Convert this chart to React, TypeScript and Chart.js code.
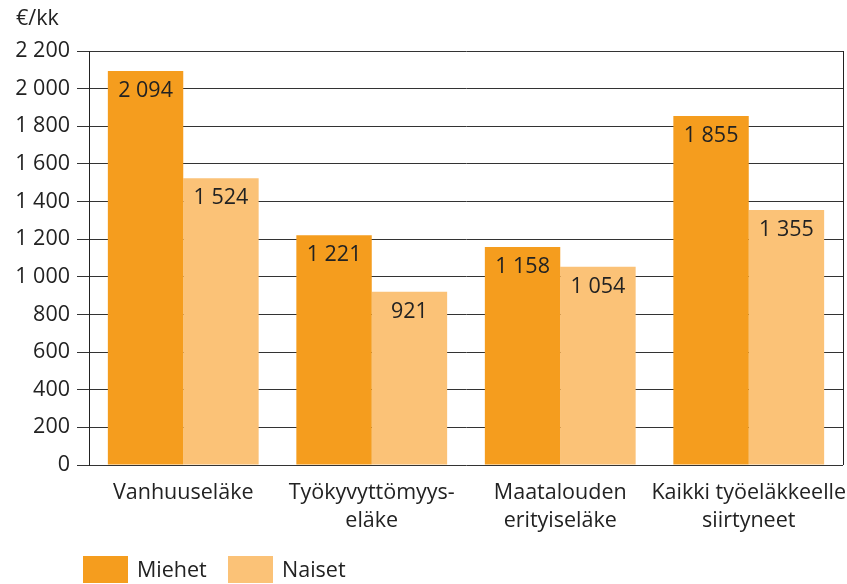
import React, { useEffect, useRef } from "react";
import { Chart, registerables } from "chart.js";

Chart.register(...registerables);

const categories: string[][] = [
  ["Vanhuuseläke"],
  ["Työkyvyttömyys-", "eläke"],
  ["Maatalouden", "erityiseläke"],
  ["Kaikki työeläkkeelle", "siirtyneet"],
];
const miehet: number[] = [2094, 1221, 1158, 1855];
const naiset: number[] = [1524, 921, 1054, 1355];
const seriesNames: string[] = ["Miehet", "Naiset"];
const seriesColors: string[] = ["#F59D1E", "#FBC277"];
const unitLabel = "€/kk";
const yMax = 2200;
const yStep = 200;

const FONT = "'Open Sans', 'Noto Sans', sans-serif";
const TEXT = "#222";
const FS = 21.5;

const fmt = (v: number) =>
  String(Math.round(v)).replace(/\B(?=(\d{3})+(?!\d))/g, " ");

const decorPlugin = {
  id: "decor",
  afterDatasetsDraw(chart: any) {
    const ctx = chart.ctx;
    const area = chart.chartArea;
    ctx.save();
    // right border
    ctx.strokeStyle = "#222";
    ctx.lineWidth = 1;
    ctx.beginPath();
    ctx.moveTo(Math.round(area.right) + 0.5, area.top);
    ctx.lineTo(Math.round(area.right) + 0.5, area.bottom);
    ctx.stroke();
    // value labels
    ctx.font = `${FS}px ${FONT}`;
    ctx.fillStyle = TEXT;
    ctx.textAlign = "center";
    ctx.textBaseline = "middle";
    chart.data.datasets.forEach((ds: any, di: number) => {
      const meta = chart.getDatasetMeta(di);
      meta.data.forEach((bar: any, i: number) => {
        ctx.fillText(fmt(ds.data[i]), bar.x, bar.y + 20);
      });
    });
    // unit label
    ctx.textAlign = "left";
    ctx.fillText(unitLabel, 16, 19);
    // legend
    let x = 83;
    chart.data.datasets.forEach((ds: any) => {
      ctx.fillStyle = ds.backgroundColor;
      ctx.fillRect(x, 556, 45, 27);
      ctx.fillStyle = TEXT;
      ctx.textAlign = "left";
      ctx.fillText(ds.label, x + 54, 571);
      x += 145;
    });
    ctx.restore();
  },
};

export default function App() {
  const ref = useRef<HTMLCanvasElement>(null);
  useEffect(() => {
    if (!ref.current) return;
    const chart = new Chart(ref.current, {
      type: "bar",
      data: {
        labels: categories,
        datasets: [
          { label: seriesNames[0], data: miehet, backgroundColor: seriesColors[0] },
          { label: seriesNames[1], data: naiset, backgroundColor: seriesColors[1] },
        ],
      },
      options: {
        animation: false,
        responsive: false,
        maintainAspectRatio: false,
        layout: { padding: { top: 51, right: 4, left: 0, bottom: 38 } },
        datasets: { bar: { categoryPercentage: 0.8, barPercentage: 1.0 } },
        plugins: {
          legend: { display: false },
          tooltip: { enabled: false },
        },
        scales: {
          x: {
            grid: { display: false },
            border: { display: false },
            ticks: {
              font: { family: FONT, size: FS, lineHeight: 1.3 },
              color: TEXT,
              padding: 6,
              maxRotation: 0,
              autoSkip: false,
            },
            afterFit(scale: any) {
              scale.height = 81;
              scale.paddingLeft = 0;
              scale.paddingRight = 0;
            },
          },
          y: {
            min: 0,
            max: yMax,
            grid: { color: "#333", lineWidth: 1, tickLength: 12 },
            border: { display: true, color: "#222", width: 1 },
            ticks: {
              stepSize: yStep,
              font: { family: FONT, size: FS },
              color: TEXT,
              padding: 7,
              callback: (v: any) => fmt(Number(v)),
            },
            afterFit(scale: any) {
              scale.width = 89;
              scale.paddingTop = 0;
              scale.paddingBottom = 0;
            },
          },
        },
      },
      plugins: [decorPlugin],
    });
    return () => chart.destroy();
  }, []);
  return (
    <div style={{ position: "fixed", left: 0, top: 0, width: 847, height: 584, background: "#fff" }}>
      <canvas ref={ref} width={847} height={584} style={{ display: "block" }} />
    </div>
  );
}
